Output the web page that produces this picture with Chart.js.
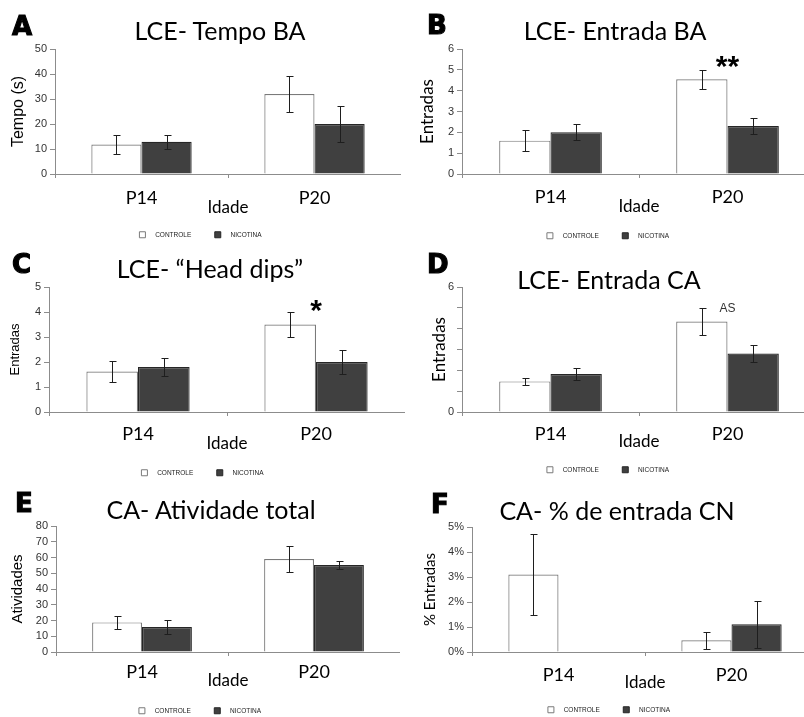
<!DOCTYPE html>
<html><head><meta charset="utf-8">
<script src="https://cdn.jsdelivr.net/npm/chart.js@4"></script>
<style>
html,body{margin:0;padding:0;background:#fff;overflow:hidden;width:804px;height:717px;position:relative}
canvas{position:absolute}
.t{position:absolute;white-space:nowrap;line-height:1;font-family:Lato;color:#000;font-size:25px}
.l{position:absolute;white-space:nowrap;font-family:'DejaVu Sans';font-weight:bold;line-height:1;color:#000;font-size:26px;-webkit-text-stroke:1.1px #000}
</style></head><body>
<script>
// ---------- DATA ----------
const categories = ['P14', 'P20'];
const seriesNames = ['CONTROLE', 'NICOTINA'];
const xTitle = 'Idade';

const ctrlA = [11.8, 32.0];
const nicA = [12.9, 20.0];
const ctrlErrA = [3.8, 7.2];
const nicErrA = [2.7, 7.3];
const yTicksA = ['0', '10', '20', '30', '40', '50'];

const ctrlB = [1.6, 4.55];
const nicB = [2.0, 2.3];
const ctrlErrB = [0.5, 0.46];
const nicErrB = [0.38, 0.38];
const yTicksB = ['0', '1', '2', '3', '4', '5', '6'];

const ctrlC = [1.62, 3.5];
const nicC = [1.8, 2.0];
const ctrlErrC = [0.43, 0.5];
const nicErrC = [0.37, 0.48];
const yTicksC = ['0', '1', '2', '3', '4', '5'];

const ctrlD = [1.47, 4.34];
const nicD = [1.82, 2.81];
const ctrlErrD = [0.18, 0.63];
const nicErrD = [0.3, 0.43];
const yTicksD = ['0', '', '', '', '', '', '6'];

const ctrlE = [18.8, 59.0];
const nicE = [15.9, 55.2];
const ctrlErrE = [4.1, 8.2];
const nicErrE = [4.6, 2.8];
const yTicksE = ['0', '10', '20', '30', '40', '50', '60', '70', '80'];

const ctrlF = [3.1, 0.47];
const nicF = [null, 1.11];
const ctrlErrF = [1.6, 0.35];
const nicErrF = [null, 0.93];
const yTicksF = ['0%', '1%', '2%', '3%', '4%', '5%'];

const letters = ['A', 'B', 'C', 'D', 'E', 'F'];
const titles = ['LCE- Tempo BA', 'LCE- Entrada BA', 'LCE- \u201CHead dips\u201D', 'LCE- Entrada CA', 'CA- Atividade total', 'CA- % de entrada CN'];
const yTitles = ['Tempo (s)', 'Entradas', 'Entradas', 'Entradas', 'Atividades', '% Entradas'];
const marksB = [{ cat: 1, value: 5.35, text: '**' }];
const marksC = [{ cat: 1, value: 4.2, text: '*' }];
const marksD = [{ cat: 1, value: 4.95, text: 'AS' }];

// ---------- LAYOUT (positions/styles only) ----------
const panels = [
  { ctrl: ctrlA, nic: nicA, ce: ctrlErrA, ne: nicErrA, ticks: yTicksA, step: 10, marks: [],
    L: 0, T: 0, W: 401, H: 248, aL: 55, aT: 49, aB: 174, yFont: { family: 'Liberation Sans', size: 16 }, yPad: 9.4, xPad: 9, idPad: 10,
    tx: 220, tb: 40, lx: 12, lb: 35 },
  { ctrl: ctrlB, nic: nicB, ce: ctrlErrB, ne: nicErrB, ticks: yTicksB, step: 1, marks: marksB,
    L: 400, T: 0, W: 416, H: 249, aL: 462, aT: 49, aB: 174, yFont: { family: 'Lato', size: 17 }, yPad: 17.8, xPad: 8, idPad: 11.8,
    tx: 615, tb: 40, lx: 427, lb: 34 },
  { ctrl: ctrlC, nic: nicC, ce: ctrlErrC, ne: nicErrC, ticks: yTicksC, step: 1, marks: marksC,
    L: 0, T: 240, W: 405, H: 246, aL: 49, aT: 287, aB: 412, yFont: { family: 'Liberation Sans', size: 13 }, yPad: 7.2, xPad: 7, idPad: 11.8,
    tx: 210, tb: 278, lx: 12, lb: 273 },
  { ctrl: ctrlD, nic: nicD, ce: ctrlErrD, ne: nicErrD, ticks: yTicksD, step: 1, marks: marksD,
    L: 400, T: 240, W: 416, H: 243, aL: 462, aT: 287, aB: 412, yFont: { family: 'Lato', size: 17 }, yPad: 29.8, xPad: 7, idPad: 10.8,
    tx: 609, tb: 289, lx: 427, lb: 273 },
  { ctrl: ctrlE, nic: nicE, ce: ctrlErrE, ne: nicErrE, ticks: yTicksE, step: 10, marks: [],
    L: 0, T: 480, W: 400, H: 244, aL: 56, aT: 526, aB: 652, yFont: { family: 'Liberation Sans', size: 15 }, yPad: 9, xPad: 5, idPad: 12.8,
    tx: 211, tb: 519, lx: 15, lb: 512 },
  { ctrl: ctrlF, nic: nicF, ce: ctrlErrF, ne: nicErrF, ticks: yTicksF, step: 1, marks: [],
    L: 400, T: 480, W: 418, H: 243, aL: 472, aT: 527, aB: 652, yFont: { family: 'Lato', size: 15 }, yPad: 21, xPad: 8, idPad: 9.8,
    tx: 617, tb: 520, lx: 431, lb: 513 }
];

const errorBarPlugin = {
  id: 'errorBars',
  afterDatasetsDraw(chart) {
    const ctx = chart.ctx, ys = chart.scales.y;
    chart.data.datasets.forEach((ds, i) => {
      const meta = chart.getDatasetMeta(i);
      meta.data.forEach((bar, j) => {
        const v = ds.data[j], e = ds.errors[j];
        if (v == null || e == null) return;
        const yt = Math.round(ys.getPixelForValue(v + e)) + 0.5;
        const yb = Math.round(ys.getPixelForValue(v - e)) + 0.5;
        const x = Math.round(bar.x) + 0.5;
        ctx.save();
        ctx.strokeStyle = '#1e1e1e';
        ctx.lineWidth = 1;
        ctx.beginPath();
        ctx.moveTo(x, yt); ctx.lineTo(x, yb);
        ctx.moveTo(x - 3, yt); ctx.lineTo(x + 4, yt);
        ctx.moveTo(x - 3, yb); ctx.lineTo(x + 4, yb);
        ctx.stroke();
        ctx.restore();
      });
    });
  }
};

const marksPlugin = {
  id: 'marks',
  afterDraw(chart, args, opts) {
    const ctx = chart.ctx;
    (opts.items || []).forEach(m => {
      const x = chart.scales.x.getPixelForValue(m.cat);
      const y = chart.scales.y.getPixelForValue(m.value);
      ctx.save();
      ctx.textAlign = 'center';
      ctx.textBaseline = 'middle';
      if (m.text === 'AS') {
        ctx.font = '12px "Liberation Sans"';
        ctx.fillStyle = '#333';
        ctx.fillText(m.text, x, y);
      } else {
        ctx.font = 'bold 30px "Liberation Sans"';
        ctx.fillStyle = '#000';
        ctx.fillText(m.text, x, y + 5);
      }
      ctx.restore();
    });
  }
};

panels.forEach((p, k) => {
  const c = document.createElement('canvas');
  c.width = p.W; c.height = p.H;
  c.style.left = p.L + 'px'; c.style.top = p.T + 'px';
  document.body.appendChild(c);

  const lt = document.createElement('div');
  lt.className = 'l'; lt.textContent = letters[k];
  lt.style.left = p.lx + 'px'; lt.style.top = (p.lb - 0.846 * 26) + 'px';
  document.body.appendChild(lt);

  const tt = document.createElement('div');
  tt.className = 't'; tt.textContent = titles[k];
  tt.style.left = p.tx + 'px'; tt.style.top = (p.tb - 0.887 * 25) + 'px';
  tt.style.transform = 'translateX(-50%)';
  document.body.appendChild(tt);

  const tickLabels = p.ticks;
  new Chart(c, {
    type: 'bar',
    data: {
      labels: categories,
      datasets: [
        { label: seriesNames[0], data: p.ctrl, errors: p.ce, backgroundColor: '#ffffff', borderColor: '#7a7a7a', borderWidth: 1.2,
          categoryPercentage: 0.58, barPercentage: 1.0 },
        { label: seriesNames[1], data: p.nic, errors: p.ne, backgroundColor: '#404040', borderColor: '#262626', borderWidth: 1.2,
          categoryPercentage: 0.58, barPercentage: 1.0 }
      ]
    },
    options: {
      responsive: false,
      animation: false,
      devicePixelRatio: 1,
      layout: { padding: { top: p.aT - p.T, left: 0, right: 0, bottom: 0 } },
      plugins: {
        tooltip: { enabled: false },
        title: { display: false },
        marks: { items: p.marks },
        legend: {
          display: true,
          position: 'bottom',
          align: 'center',
          labels: {
            boxWidth: 6, boxHeight: 6, padding: 4,
            color: '#222',
            font: { family: 'Liberation Sans', size: 6.5 },
            generateLabels(chart) {
              const items = Chart.defaults.plugins.legend.labels.generateLabels(chart);
              items.forEach((it, i) => {
                it.text = '\u2002\u2002' + it.text + (i === 0 ? '\u2003\u2003\u2003' : '');
                it.lineWidth = 1;
              });
              return items;
            }
          }
        }
      },
      scales: {
        x: {
          offset: true,
          grid: { display: true, offset: true, drawOnChartArea: false, drawTicks: true, tickLength: 4, color: '#8c8c8c' },
          border: { display: true, color: '#8c8c8c', width: 1 },
          ticks: { color: '#000', font: { family: 'Lato', size: 18 }, padding: p.xPad, maxRotation: 0 },
          title: { display: true, text: xTitle, color: '#000', font: { family: 'Lato', size: 17 }, padding: { top: 0, bottom: p.idPad } },
          afterFit(s) { s.height = p.H - s.chart.legend.height - (p.aB - p.T); }
        },
        y: {
          min: 0,
          max: (tickLabels.length - 1) * p.step,
          grid: { display: true, drawOnChartArea: false, drawTicks: true, tickLength: 5, color: '#8c8c8c' },
          border: { display: true, color: '#8c8c8c', width: 1 },
          ticks: { stepSize: p.step, autoSkip: false, color: '#333', font: { family: 'Liberation Sans', size: 11 }, padding: 3,
                   callback: (v, i) => tickLabels[i] },
          title: { display: true, text: yTitles[k], color: '#000', font: p.yFont, padding: { top: p.yPad, bottom: 0 } },
          afterFit(s) { s.width = p.aL - p.L; }
        }
      }
    },
    plugins: [errorBarPlugin, marksPlugin]
  });
});
</script>
</body></html>
